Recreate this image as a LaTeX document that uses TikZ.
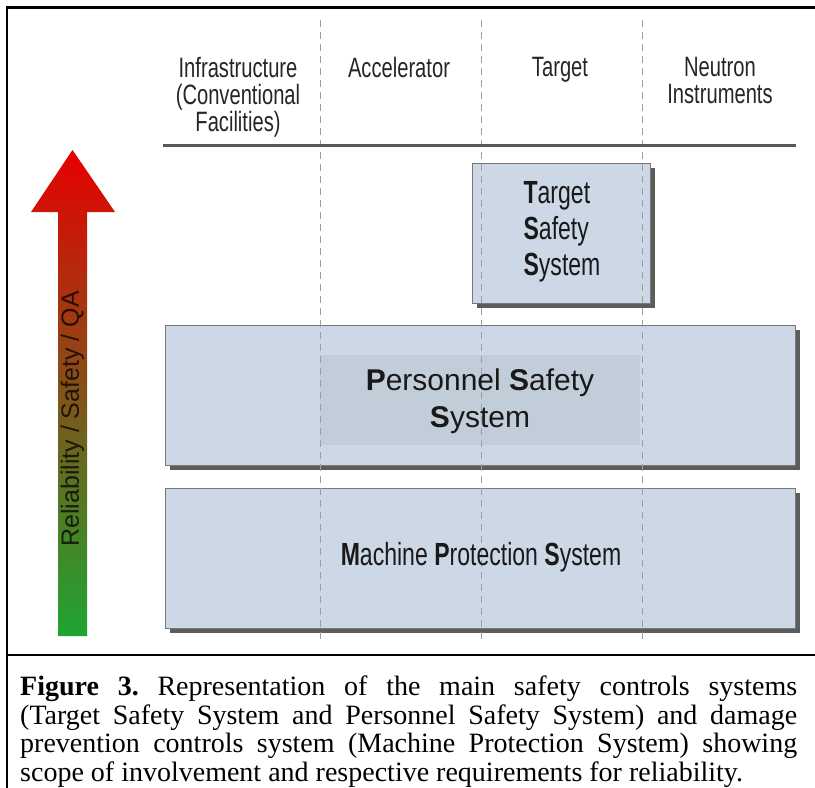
\documentclass[tikz,border=0pt]{standalone}
\usepackage{fontspec}
\setmainfont{Liberation Serif}
\newfontfamily\arialf{Liberation Sans}
\newfontfamily\condf[FakeStretch=0.72]{Liberation Sans}
\usetikzlibrary{shadows}
\definecolor{boxfill}{RGB}{205,216,230}
\definecolor{innerfill}{RGB}{194,205,218}
\definecolor{linegray}{RGB}{120,120,120}
\definecolor{arrowred}{RGB}{230,0,0}
\definecolor{arrowgreen}{RGB}{30,165,50}
\begin{document}
\begin{tikzpicture}[x=1pt,y=-1pt,
  sysbox/.style={draw=linegray, line width=1pt, fill=boxfill, inner sep=0pt,
    drop shadow={shadow xshift=4pt, shadow yshift=-4pt, fill=black!85, opacity=0.75}},
  innerbox/.style={draw=none, fill=innerfill, inner sep=0pt},
  colline/.style={draw=gray!75, dash pattern=on 7pt off 5pt, line width=1pt},
  hdr/.style={font=\condf\fontsize{28}{27}\selectfont, align=center, text=black!85, inner sep=0pt},
  frameline/.style={line width=2.6pt, black},
  systext/.style={text=black!90, inner sep=0pt}]
\useasboundingbox (0,0) rectangle (815,788);
\fill[white] (0,0) rectangle (815,788);

% frame
\coordinate (ftl) at (7,7.5);
\coordinate (ftr) at (815,7.5);
\coordinate (fbl) at (7,788);
\coordinate (fml) at (7,655);
\coordinate (fmr) at (815,655);
\draw[frameline] (ftr) -- (ftl) -- (fbl);
\draw[frameline] (fml) -- (fmr);

% arrow
\shade[top color=arrowred, bottom color=arrowgreen]
  (58,636) -- (58,212) -- (31,212) -- (72.5,150) -- (115,212) -- (87,212) -- (87,636) -- cycle;
\node[rotate=90, font=\arialf\fontsize{25}{25}\selectfont, text=black, opacity=0.75, inner sep=0pt]
  (qa) at (72.5,419) {Reliability / Safety / QA};

% boxes
\node[sysbox, minimum width=178pt, minimum height=140pt, anchor=north west] (tss) at (472,163) {};
\node[sysbox, minimum width=630pt, minimum height=140pt, anchor=north west] (pss) at (165,325) {};
\node[innerbox, minimum width=320pt, minimum height=90pt] (pssin) at (480,400) {};
\node[sysbox, minimum width=630pt, minimum height=140pt, anchor=north west] (mps) at (165,488) {};

% column lines
\foreach \i/\xx in {1/320,2/481,3/642}{
  \coordinate (d\i t) at (\xx,20);
  \coordinate (d\i b) at (\xx,640);
  \draw[colline] (d\i t) -- (d\i b);
}

% header rule
\coordinate (hl) at (163,145.5);
\coordinate (hr) at (796,145.5);
\draw[line width=2.5pt, draw=black!65] (hl) -- (hr);

% headers
\node[hdr, anchor=north] (h1) at (238,57) {Infrastructure\\[0pt](Conventional\\[0pt]Facilities)};
\node[hdr, anchor=north] (h2) at (399,57) {Accelerator};
\node[hdr, anchor=north] (h3) at (560,57) {Target};
\node[hdr, anchor=north] (h4) at (720,57) {Neutron\\[0pt]Instruments};

% system texts
\node[systext, font=\condf\fontsize{32}{36}\selectfont, align=left] (tsst) at (562,232)
  {\textbf{T}arget\\\textbf{S}afety\\\textbf{S}ystem};
\node[systext, font=\arialf\fontsize{30}{37}\selectfont, align=center] (psst) at (480,401)
  {\textbf{P}ersonnel \textbf{S}afety\\\textbf{S}ystem};
\node[systext, font=\condf\fontsize{32}{32}\selectfont] (mpst) at (481,557)
  {\textbf{M}achine \textbf{P}rotection \textbf{S}ystem};

% caption
\node[anchor=north west, text width=777pt, align=justify, inner sep=0pt,
  font=\fontsize{28}{28.5}\selectfont] (cap) at (20,676)
  {\frenchspacing\hyphenpenalty=10000 \textbf{Figure 3.} Representation of the main safety controls systems\linebreak
   (Target Safety System and Personnel Safety System) and damage\linebreak
   prevention controls system (Machine Protection System) showing\linebreak
   scope of involvement and respective requirements for reliability.};
\end{tikzpicture}
\end{document}
